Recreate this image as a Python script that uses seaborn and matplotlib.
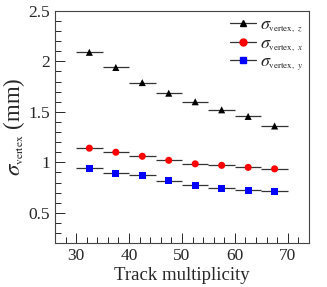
"""Vertex resolution vs track multiplicity."""

import matplotlib
matplotlib.use("Agg")
import matplotlib.pyplot as plt
import matplotlib._mathtext as mathtext_impl
from matplotlib.lines import Line2D
from matplotlib.ticker import MultipleLocator
import seaborn as sns
import pandas as pd

# data
multiplicity = [32.5, 37.5, 42.5, 47.5, 52.5, 57.5, 62.5, 67.5]
bin_half_width = 2.5
sigma_z = [2.09, 1.94, 1.79, 1.685, 1.60, 1.52, 1.455, 1.36]
sigma_x = [1.14, 1.10, 1.06, 1.02, 0.985, 0.97, 0.95, 0.935]
sigma_y = [0.94, 0.89, 0.87, 0.82, 0.775, 0.745, 0.725, 0.715]

series = ["z", "x", "y"]
labels = {
    "z": r"$\sigma_{\rm vertex,\ \mathit{z}}$",
    "x": r"$\sigma_{\rm vertex,\ \mathit{x}}$",
    "y": r"$\sigma_{\rm vertex,\ \mathit{y}}$",
}
colors = {"z": "black", "x": "red", "y": "blue"}
markers = {"z": "^", "x": "o", "y": "s"}

df = pd.concat(
    [
        pd.DataFrame({"mult": multiplicity, "sigma": vals, "axis": name})
        for name, vals in zip(series, [sigma_z, sigma_x, sigma_y])
    ],
    ignore_index=True,
)

sns.set_style("ticks")
plt.rcParams["font.family"] = ["Liberation Serif", "DejaVu Serif"]
plt.rcParams["mathtext.fontset"] = "stix"
# ROOT-style small subscripts
mathtext_impl.SHRINK_FACTOR = 0.5

fig, ax = plt.subplots(figsize=(3.27, 2.87), dpi=100)
fig.subplots_adjust(left=0.168, right=0.945, top=0.962, bottom=0.153)

# horizontal bin widths
for name in series:
    sub = df[df["axis"] == name]
    ax.errorbar(sub["mult"], sub["sigma"], xerr=bin_half_width, fmt="none",
                ecolor="#333333", elinewidth=0.9, capsize=0, zorder=2)

sns.scatterplot(data=df, x="mult", y="sigma", hue="axis", style="axis",
                palette=colors, markers=markers, s=26, linewidth=0,
                legend=False, ax=ax, zorder=3)

ax.set_xlim(26, 74)
ax.set_ylim(0.2, 2.5)
ax.xaxis.set_major_locator(MultipleLocator(10))
ax.xaxis.set_minor_locator(MultipleLocator(2))
ax.yaxis.set_major_locator(MultipleLocator(0.5))
ax.yaxis.set_minor_locator(MultipleLocator(0.1))
ax.yaxis.set_major_formatter(plt.FuncFormatter(lambda v, p: f"{v:g}"))
ax.tick_params(which="both", direction="in", labelsize=12.5, width=0.7)
ax.tick_params(which="major", length=7)
ax.tick_params(which="minor", length=4)
for sp in ax.spines.values():
    sp.set_linewidth(0.8)
    sp.set_color("#444444")

ax.set_xlabel("Track multiplicity", fontsize=13.5, labelpad=2)
ax.set_ylabel(r"$\sigma_{\rm vertex}$ (mm)", fontsize=16.5, labelpad=1)

handles = [
    Line2D([0], [0], color="#333333", lw=0.9, marker=markers[n],
           markerfacecolor=colors[n], markeredgecolor=colors[n], markersize=5)
    for n in series
]
ax.legend(handles, [labels[n] for n in series], loc="upper right",
          frameon=False, fontsize=13, handlelength=1.45, handletextpad=0.25,
          labelspacing=0.0, borderaxespad=0.1, borderpad=0.2)

fig.savefig("out.png", dpi=100)
